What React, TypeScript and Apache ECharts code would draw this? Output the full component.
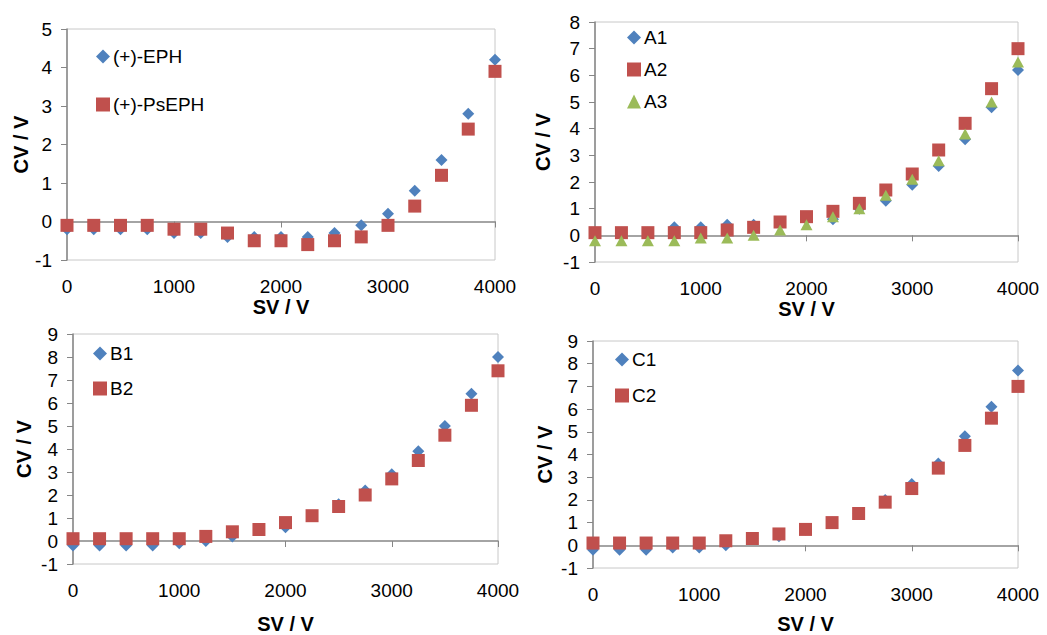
import React, { useEffect, useRef } from "react";
import * as echarts from "echarts";

const SV = [0, 250, 500, 750, 1000, 1250, 1500, 1750, 2000, 2250, 2500, 2750, 3000, 3250, 3500, 3750, 4000];

const EPH = [-0.2, -0.2, -0.2, -0.2, -0.3, -0.3, -0.4, -0.4, -0.4, -0.4, -0.3, -0.1, 0.2, 0.8, 1.6, 2.8, 4.2];
const PsEPH = [-0.1, -0.1, -0.1, -0.1, -0.2, -0.2, -0.3, -0.5, -0.5, -0.6, -0.5, -0.4, -0.1, 0.4, 1.2, 2.4, 3.9];

const A1 = [0.1, 0.1, 0.1, 0.3, 0.3, 0.4, 0.4, 0.5, 0.6, 0.6, 1.0, 1.3, 1.9, 2.6, 3.6, 4.8, 6.2];
const A2 = [0.1, 0.1, 0.1, 0.1, 0.1, 0.2, 0.3, 0.5, 0.7, 0.9, 1.2, 1.7, 2.3, 3.2, 4.2, 5.5, 7.0];
const A3 = [-0.2, -0.2, -0.2, -0.2, -0.1, -0.1, 0.0, 0.2, 0.4, 0.7, 1.0, 1.5, 2.1, 2.8, 3.8, 5.0, 6.5];

const B1 = [-0.2, -0.2, -0.2, -0.2, -0.1, 0.0, 0.2, 0.5, 0.6, 1.1, 1.6, 2.2, 2.9, 3.9, 5.0, 6.4, 8.0];
const B2 = [0.1, 0.1, 0.1, 0.1, 0.1, 0.2, 0.4, 0.5, 0.8, 1.1, 1.5, 2.0, 2.7, 3.5, 4.6, 5.9, 7.4];

const C1 = [-0.2, -0.2, -0.2, -0.1, -0.1, 0.0, 0.3, 0.4, 0.7, 1.0, 1.4, 2.0, 2.7, 3.6, 4.8, 6.1, 7.7];
const C2 = [0.1, 0.1, 0.1, 0.1, 0.1, 0.2, 0.3, 0.5, 0.7, 1.0, 1.4, 1.9, 2.5, 3.4, 4.4, 5.6, 7.0];

const X_TITLE = "SV / V";
const Y_TITLE = "CV / V";

const BLUE = "#4F81BD";
const RED = "#C0504D";
const GREEN = "#9BBB59";
const FONT = "'Liberation Sans', Arial, sans-serif";

type Panel = {
  grid: { left: number; top: number; width: number; height: number };
  yMin: number;
  yMax: number;
  xGap: number;
  yGap: number;
  legend: { left: number; top: number; gap: number };
  series: { name: string; data: number[]; kind: "diamond" | "square" | "triangle" }[];
};

const panels: Panel[] = [
  {
    grid: { left: 67, top: 29, width: 428, height: 231 },
    yMin: -1, yMax: 5, xGap: 33, yGap: 35,
    legend: { left: 96, top: 47, gap: 29 },
    series: [
      { name: "(+)-EPH", data: EPH, kind: "diamond" },
      { name: "(+)-PsEPH", data: PsEPH, kind: "square" },
    ],
  },
  {
    grid: { left: 595, top: 22, width: 423, height: 240 },
    yMin: -1, yMax: 8, xGap: 31, yGap: 42,
    legend: { left: 627, top: 28, gap: 13 },
    series: [
      { name: "A1", data: A1, kind: "diamond" },
      { name: "A2", data: A2, kind: "square" },
      { name: "A3", data: A3, kind: "triangle" },
    ],
  },
  {
    grid: { left: 73, top: 334, width: 425, height: 239 },
    yMin: -1, yMax: 9, xGap: 50, yGap: 39,
    legend: { left: 93, top: 344, gap: 16 },
    series: [
      { name: "B1", data: B1, kind: "diamond" },
      { name: "B2", data: B2, kind: "square" },
    ],
  },
  {
    grid: { left: 593, top: 341, width: 425, height: 238 },
    yMin: -1, yMax: 9, xGap: 46, yGap: 38,
    legend: { left: 615, top: 350, gap: 17 },
    series: [
      { name: "C1", data: C1, kind: "diamond" },
      { name: "C2", data: C2, kind: "square" },
    ],
  },
];

function symbolFor(kind: string) {
  if (kind === "diamond") return { symbol: "diamond", symbolSize: [12, 12], color: BLUE };
  if (kind === "square") return { symbol: "rect", symbolSize: [13, 13], color: RED };
  return { symbol: "triangle", symbolSize: [12, 11], color: GREEN };
}

export default function App() {
  const ref = useRef<HTMLDivElement>(null);
  useEffect(() => {
    if (!ref.current) return;
    const chart = echarts.init(ref.current, undefined, { renderer: "svg" });
    const grids: any[] = [];
    const xAxes: any[] = [];
    const yAxes: any[] = [];
    const legends: any[] = [];
    const series: any[] = [];
    panels.forEach((p, i) => {
      grids.push({ ...p.grid, show: true, borderColor: "#C8C8C8", borderWidth: 1, containLabel: false });
      // labelled bottom axis
      xAxes.push({
        type: "value", gridIndex: i, min: 0, max: 4000, interval: 1000, position: "bottom",
        axisLine: { show: false, onZero: false },
        axisTick: { show: false },
        splitLine: { show: false },
        axisLabel: { fontSize: 19, color: "#000", fontFamily: FONT, margin: 17, formatter: (v: number) => String(v) },
        name: X_TITLE, nameLocation: "middle", nameGap: p.xGap,
        nameTextStyle: { fontSize: 20, fontWeight: "bold", color: "#000", fontFamily: FONT },
      });
      // zero line axis
      xAxes.push({
        type: "value", gridIndex: i, min: 0, max: 4000, interval: 1000, position: "bottom",
        axisLine: { show: true, onZero: true, lineStyle: { color: "#868686", width: 1.5 } },
        axisTick: { show: true, length: 6, lineStyle: { color: "#868686" } },
        axisLabel: { show: false },
        splitLine: { show: false },
      });
      yAxes.push({
        type: "value", gridIndex: i, min: p.yMin, max: p.yMax, interval: 1,
        axisLine: { show: true, onZero: false, lineStyle: { color: "#868686", width: 1.5 } },
        axisTick: { show: true, length: 6, lineStyle: { color: "#868686" } },
        splitLine: { show: false },
        axisLabel: { fontSize: 19, color: "#000", fontFamily: FONT, margin: 15 },
        name: Y_TITLE, nameLocation: "middle", nameGap: p.yGap,
        nameTextStyle: { fontSize: 20, fontWeight: "bold", color: "#000", fontFamily: FONT },
      });
      legends.push({
        orient: "vertical", left: p.legend.left, top: p.legend.top, itemGap: p.legend.gap,
        itemWidth: 14, itemHeight: 14,
        data: p.series.map((s) => s.name),
        textStyle: { fontSize: 19, color: "#000", fontFamily: FONT, padding: [0, 0, 0, -2] },
        padding: 0,
      });
      p.series.forEach((s) => {
        const sym = symbolFor(s.kind);
        series.push({
          type: "scatter", name: s.name, xAxisIndex: i * 2, yAxisIndex: i,
          symbol: sym.symbol, symbolSize: sym.symbolSize,
          itemStyle: { color: sym.color, opacity: 1 },
          data: SV.map((x, k) => [x, s.data[k]]),
        });
      });
    });
    chart.setOption({
      animation: false,
      backgroundColor: "#ffffff",
      grid: grids,
      xAxis: xAxes,
      yAxis: yAxes,
      legend: legends,
      series,
    });
    return () => chart.dispose();
  }, []);
  return (
    <div
      ref={ref}
      style={{ position: "absolute", left: 0, top: 0, width: 1047, height: 635 }}
    />
  );
}
